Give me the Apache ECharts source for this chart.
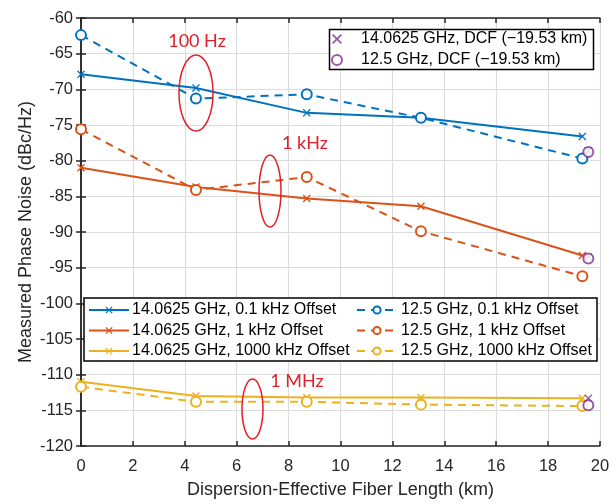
<!DOCTYPE html>
<html>
<head>
<meta charset="utf-8">
<script src="https://cdn.jsdelivr.net/npm/echarts@6/dist/echarts.min.js"></script>
<style>
  html, body { margin: 0; padding: 0; background: #fff; }
  #main { width: 616px; height: 504px; }
</style>
</head>
<body>
<div id="main"></div>
<script>
// fibre lengths (km)
var lengths = [0, 4.43, 8.7, 13.1, 19.32];
var dcfLength = 19.55;

// 14.0625 GHz
var hi01k = [-67.9, -69.8, -73.3, -74.0, -76.6];
var hi1k = [-81.0, -83.7, -85.3, -86.4, -93.3];
var hi1000k = [-111.0, -113.0, -113.2, -113.2, -113.3];
// 12.5 GHz
var lo01k = [-62.4, -71.3, -70.7, -74.0, -79.7];
var lo1k = [-75.6, -84.1, -82.3, -89.9, -96.2];
var lo1000k = [-111.7, -113.8, -113.8, -114.2, -114.4];
// DCF points (0.1 kHz, 1 kHz, 1000 kHz)
var hiDcf = [-78.6, -93.5, -113.3];
var loDcf = [-78.8, -93.7, -114.3];

var BLUE = "#0072BD", ORANGE = "#D95319", YELLOW = "#EDB120", PURPLE = "#7E2F8E", RED = "#E0202A";
var FONT = "Liberation Sans";
var crossPath = "path://M0,1.2L1.2,0L5,3.8L8.8,0L10,1.2L6.2,5L10,8.8L8.8,10L5,6.2L1.2,10L0,8.8L3.8,5Z";

function pairs(ys) {
  return ys.map(function (y, i) { return [lengths[i], y]; });
}

function lineSeries(name, ys, color, dashed) {
  return {
    name: name,
    type: "line",
    data: pairs(ys),
    symbol: dashed ? "emptyCircle" : crossPath,
    symbolSize: dashed ? 10 : 8,
    showSymbol: true,
    lineStyle: { color: color, width: 2, type: dashed ? [8, 6] : "solid" },
    itemStyle: dashed
      ? { color: color, borderColor: color, borderWidth: 2 }
      : { color: color, borderWidth: 0 },
    emphasis: { disabled: true },
    animation: false
  };
}

var chart = echarts.init(document.getElementById("main"));

var tickTxt = { color: "#262626", fontSize: 16.5, fontFamily: FONT };
var nameTxt = { color: "#262626", fontSize: 18, fontFamily: FONT };
var legendTxt = { color: "#000", fontSize: 16, fontFamily: FONT };
var axisLine = { show: true, lineStyle: { color: "#262626", width: 1.5 } };
var tick = { show: true, inside: true, length: 5, lineStyle: { color: "#262626", width: 1.5 } };
var grayGrid = { show: true, lineStyle: { color: "#dcdcdc", width: 1.2 } };

var option = {
  backgroundColor: "#fff",
  grid: { left: 81, right: 16, top: 18, bottom: 54 },
  xAxis: [
    {
      type: "value", min: 0, max: 20, interval: 2,
      name: "Dispersion-Effective Fiber Length (km)",
      nameLocation: "middle", nameGap: 35,
      nameTextStyle: nameTxt,
      axisLabel: Object.assign({ margin: 12 }, tickTxt),
      axisLine: axisLine, axisTick: tick,
      splitLine: grayGrid
    },
    {
      type: "value", position: "top", min: 0, max: 20, interval: 2,
      axisLabel: { show: false }, axisLine: axisLine, axisTick: tick,
      splitLine: { show: false }
    }
  ],
  yAxis: [
    {
      type: "value", min: -120, max: -60, interval: 5,
      name: "Measured Phase Noise (dBc/Hz)",
      nameLocation: "middle", nameGap: 46, nameMoveOverlap: false,
      nameTextStyle: nameTxt,
      axisLabel: Object.assign({ margin: 8 }, tickTxt),
      axisLine: axisLine, axisTick: tick,
      splitLine: grayGrid
    },
    {
      type: "value", position: "right", min: -120, max: -60, interval: 5,
      axisLabel: { show: false }, axisLine: axisLine, axisTick: tick,
      splitLine: { show: false }
    }
  ],
  legend: [
    {
      left: 88, top: 302, orient: "vertical", itemGap: 4.5,
      itemWidth: 40, itemHeight: 9, padding: 0,
      textStyle: Object.assign({ padding: [0, 0, 0, -2] }, legendTxt),
      data: ["14.0625 GHz, 0.1 kHz Offset", "14.0625 GHz, 1 kHz Offset", "14.0625 GHz, 1000 kHz Offset"]
    },
    {
      left: 356, top: 302, orient: "vertical", itemGap: 4.5,
      itemWidth: 40, itemHeight: 9, padding: 0,
      textStyle: Object.assign({ padding: [0, 0, 0, -1] }, legendTxt),
      data: ["12.5 GHz, 0.1 kHz Offset", "12.5 GHz, 1 kHz Offset", "12.5 GHz, 1000 kHz Offset"]
    },
    {
      left: 331, top: 31, orient: "vertical", itemGap: 5,
      itemWidth: 10, itemHeight: 10, padding: 0,
      textStyle: Object.assign({ padding: [0, 0, 0, 14] }, legendTxt),
      data: ["14.0625 GHz, DCF (\u221219.53 km)", "12.5 GHz, DCF (\u221219.53 km)"]
    }
  ],
  graphic: [
    { type: "rect", z: 3, shape: { x: 84, y: 298, width: 513, height: 63 },
      style: { fill: "#fff", stroke: "#000", lineWidth: 1.5 } },
    { type: "rect", z: 3, shape: { x: 329.5, y: 29.5, width: 264, height: 40 },
      style: { fill: "#fff", stroke: "#000", lineWidth: 1.5 } },
    { type: "ellipse", z: 5, shape: { cx: 196, cy: 93, rx: 17, ry: 38 },
      style: { fill: "none", stroke: RED, lineWidth: 1.5 } },
    { type: "ellipse", z: 5, shape: { cx: 270, cy: 191, rx: 11, ry: 36 },
      style: { fill: "none", stroke: RED, lineWidth: 1.5 } },
    { type: "ellipse", z: 5, shape: { cx: 252.5, cy: 409, rx: 10.5, ry: 30 },
      style: { fill: "none", stroke: RED, lineWidth: 1.5 } },
    { type: "text", z: 5, style: { x: 197, y: 41, text: "100 Hz", fill: RED, fontSize: 18, fontFamily: "Lato", align: "center", verticalAlign: "middle" } },
    { type: "text", z: 5, style: { x: 305, y: 143, text: "1 kHz", fill: RED, fontSize: 18, fontFamily: "Lato", align: "center", verticalAlign: "middle" } },
    { type: "text", z: 5, style: { x: 297, y: 381, text: "1 MHz", fill: RED, fontSize: 18, fontFamily: "Lato", align: "center", verticalAlign: "middle" } }
  ],
  series: [
    lineSeries("14.0625 GHz, 0.1 kHz Offset", hi01k, BLUE, false),
    lineSeries("12.5 GHz, 0.1 kHz Offset", lo01k, BLUE, true),
    lineSeries("14.0625 GHz, 1 kHz Offset", hi1k, ORANGE, false),
    lineSeries("12.5 GHz, 1 kHz Offset", lo1k, ORANGE, true),
    lineSeries("14.0625 GHz, 1000 kHz Offset", hi1000k, YELLOW, false),
    lineSeries("12.5 GHz, 1000 kHz Offset", lo1000k, YELLOW, true),
    {
      name: "14.0625 GHz, DCF (\u221219.53 km)", type: "scatter",
      data: hiDcf.map(function (y) { return [dcfLength, y]; }),
      symbol: crossPath, symbolSize: 8,
      itemStyle: { color: PURPLE }, z: 3, animation: false
    },
    {
      name: "12.5 GHz, DCF (\u221219.53 km)", type: "scatter",
      data: loDcf.map(function (y) { return [dcfLength, y]; }),
      symbol: "emptyCircle", symbolSize: 10,
      itemStyle: { color: PURPLE, borderColor: PURPLE, borderWidth: 2 }, z: 3, animation: false
    }
  ]
};

chart.setOption(option);
</script>
</body>
</html>
